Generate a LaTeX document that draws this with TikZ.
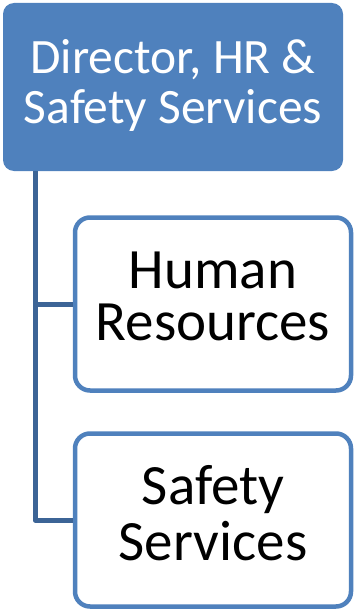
\documentclass[tikz,border=0pt]{standalone}
\usepackage{fontspec}
\setmainfont{Carlito}
\definecolor{boxblue}{RGB}{79,129,189}
\definecolor{linkblue}{RGB}{60,100,150}
\begin{document}
\begin{tikzpicture}[x=1pt,y=-1pt,
  topbox/.style={rectangle,rounded corners=11pt,fill=boxblue,draw=none,
    minimum width=340pt,minimum height=168pt,inner sep=0pt},
  subbox/.style={rectangle,rounded corners=15pt,fill=white,draw=boxblue,line width=4.5pt,
    minimum width=276pt,minimum height=173pt,inner sep=0pt},
  toptext/.style={inner sep=0pt,text=white,align=center,font=\fontsize{49.5}{50}\selectfont},
  subtext/.style={inner sep=0pt,text=black,align=center,font=\fontsize{57}{#1}\selectfont},
  link/.style={draw=linkblue,line width=5pt}]
\useasboundingbox (0,0) rectangle (355,610);
\node[topbox] (top) at (173,87) {};
\node[toptext] (topt) at (173,85) {Director, HR \&\\Safety Services};
\node[subbox] (hr) at (213,304) {};
\node[subtext=52] (hrt) at (213,296) {Human\\Resources};
\node[subbox] (ss) at (213,520) {};
\node[subtext=56] (sst) at (213,513.5) {Safety\\Services};
\coordinate (c1) at (35,304);
\coordinate (c2) at (35,520);
\draw[link] (top.south west -| c1) -- (c1) -- (hr.west);
\draw[link,line join=round] (c1) -- (c2) -- (ss.west);
\end{tikzpicture}
\end{document}
